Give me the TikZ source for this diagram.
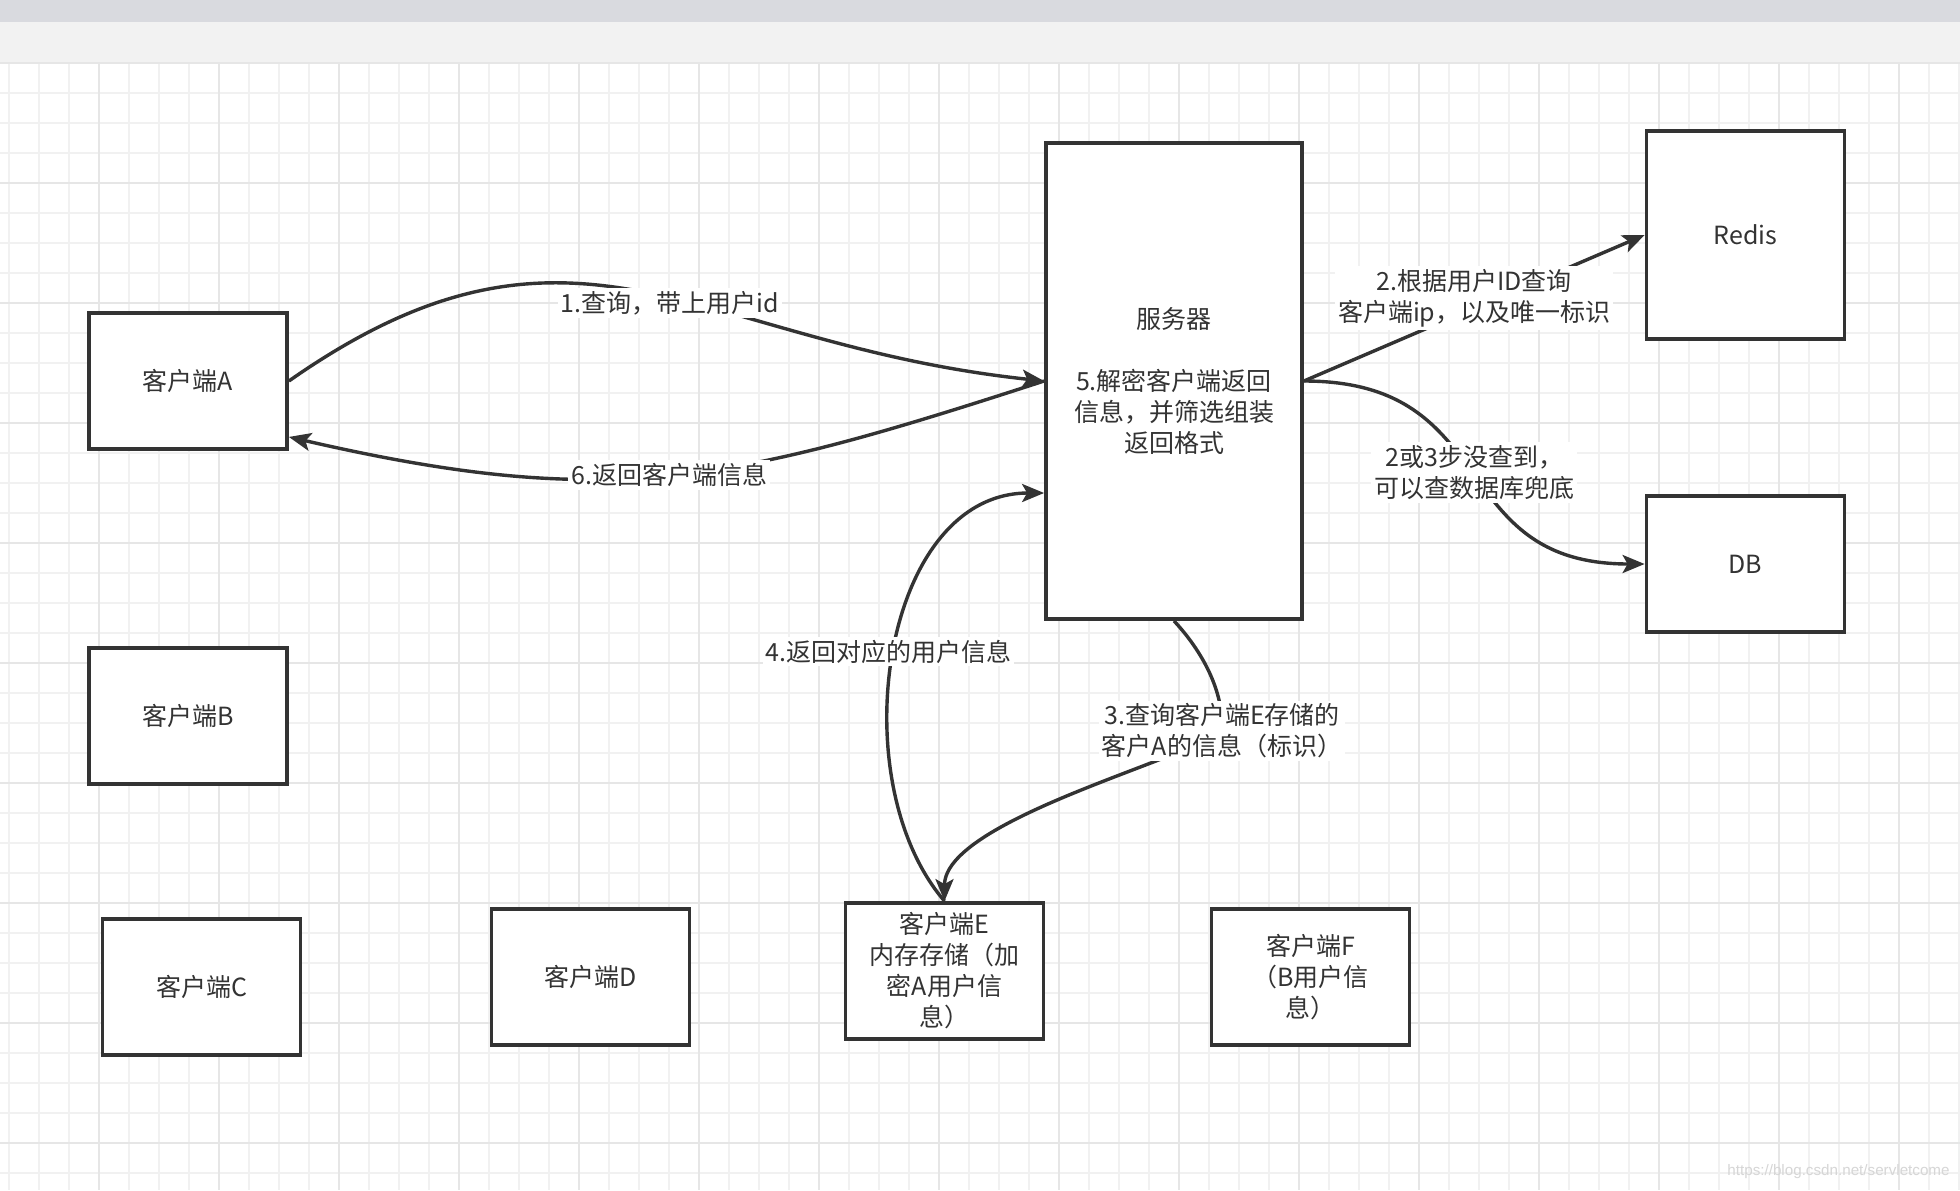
\documentclass[tikz,border=0pt]{standalone}
\usepackage{fontspec}
\setmainfont{Noto Sans CJK SC}
\newfontfamily\wmfont{Liberation Sans}
\usepackage{xcolor}
\usepackage{tikz}
\usetikzlibrary{positioning,calc,arrows.meta}

\definecolor{ink}{HTML}{333333}
\definecolor{gridminor}{HTML}{F1F1F1}
\definecolor{gridmajor}{HTML}{E6E6E6}
\definecolor{topbar}{HTML}{D9DADF}
\definecolor{toolbar}{HTML}{F2F2F2}
\definecolor{wmgray}{HTML}{D6D6D6}

\begin{document}
\begin{tikzpicture}[x=0.5pt, y=-0.5pt,
    box/.style={draw=ink, line width=1.9pt, fill=white, inner sep=0pt,
        minimum width=99pt, minimum height=68pt, text=ink, align=center,
        font=\fontsize{12.5pt}{15.5pt}\selectfont},
    lbl/.style={fill=white, inner sep=1.5pt, text=ink, align=center,
        font=\fontsize{12.5pt}{15.5pt}\selectfont},
    conn/.style={draw=ink, line width=1.7pt,
        -{Stealth[length=11pt, width=9pt, inset=2.5pt]}},
    minorline/.style={draw=gridminor, line width=1pt},
    majorline/.style={draw=gridmajor, line width=1.2pt}]
    \useasboundingbox (0,0) rectangle (1960,1190);
    \fill[white] (0,0) rectangle (1960,1190);

    % Top bars
    \fill[topbar] (0,0) rectangle (1960,22);
    \fill[toolbar] (0,22) rectangle (1960,63);

    % Grid lines
    \foreach \x in {8.75,38.75,...,1960}
        \draw[minorline] (\x,63) -- (\x,1190);
    \foreach \y in {93,123,...,1190}
        \draw[minorline] (0,\y) -- (1960,\y);
    \foreach \x in {98.75,218.75,...,1960}
        \draw[majorline] (\x,63) -- (\x,1190);
    \foreach \y in {63,183,...,1190}
        \draw[majorline] (0,\y) -- (1960,\y);

    % Clients
    \node[box] (cliA) at (188,381) {客户端A};
    \node[box] (cliB) at (188,716) {客户端B};
    \node[box] (cliC) at (201.5,987) {客户端C};
    \node[box] (cliD) at (590.5,977) {客户端D};
    \node[box] (cliE) at (944.5,971) {客户端E\\内存存储（加\\密A用户信\\息）};
    \node[box] (cliF) at (1310.5,977) {客户端F\\（B用户信\\息）};

    % Server and stores
    \node[box, minimum width=128pt, minimum height=238pt] (srv) at (1174,381)
        {服务器\\[15.5pt]5.解密客户端返回\\信息，并筛选组装\\返回格式};
    \node[box, minimum height=104pt] (redis) at (1745.5,235) {Redis};
    \node[box] (db) at (1745.5,564) {DB};

    % Connectors
    \draw[conn] (cliA.east) .. controls +(287,-201) and +(-348,-37) .. (srv.west)
        node[lbl, pos=0.54, yshift=-3pt] (l1) {1.查询，带上用户id};
    \draw[conn] (srv.west) .. controls +(-314,102) and +(321,74) ..
        ($(cliA.south east)!0.1!(cliA.north east)$)
        node[lbl, pos=0.5] (l6) {6.返回客户端信息};
    \draw[conn] (srv.east) -- (redis.west)
        node[lbl, pos=0.5, yshift=5pt] (l2) {2.根据用户ID查询\\客户端ip，以及唯一标识};
    \draw[conn] (srv.east) .. controls +(200,0) and +(-200,0) .. (db.west)
        node[lbl, pos=0.5] (l2b) {2或3步没查到，\\可以查数据库兜底};
    \coordinate (m3) at (1222,731);
    \draw[conn] (srv.south) .. controls +(28,30) and +(2,-40) .. (m3)
        node[lbl] (l3) {3.查询客户端E存储的\\客户A的信息（标识）}
        .. controls +(-40,30) and +(0,-80) .. (cliE.north);
    \draw[conn] (cliE.north) .. controls +(-104,-121) and +(-162,0) ..
        ($(srv.west)+(0,112)$)
        node[lbl, pos=0.5, xshift=-3pt] (l4) {4.返回对应的用户信息};

    % Watermark
    \node[text=wmgray, anchor=east, inner sep=0pt,
        font=\wmfont\fontsize{7.6pt}{9pt}\selectfont] (wm) at (1950,1172)
        {https://blog.csdn.net/servletcome};
\end{tikzpicture}
\end{document}
